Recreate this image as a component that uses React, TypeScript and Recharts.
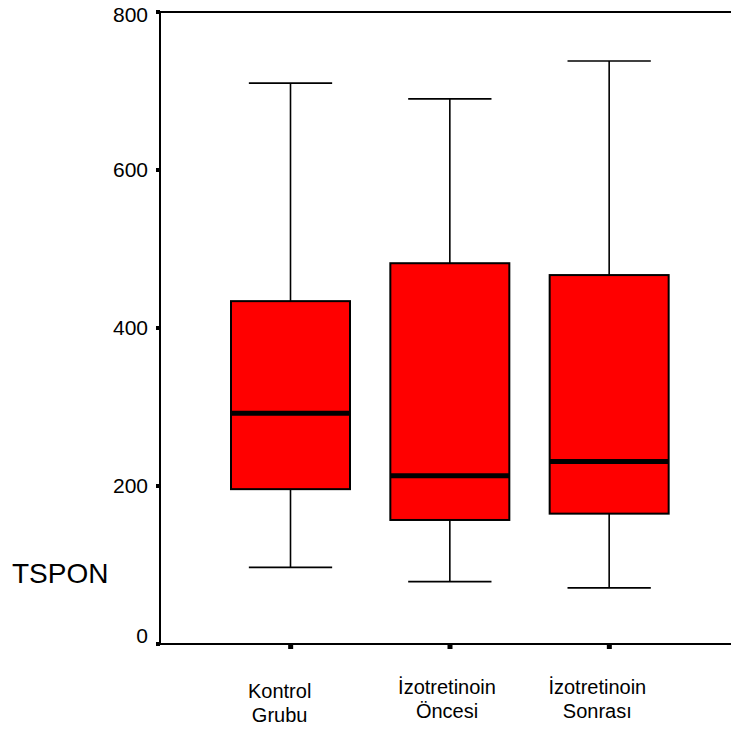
import React from "react";
import { ComposedChart, Bar, XAxis, YAxis, ReferenceLine, Label } from "recharts";

const categories = ["Kontrol\nGrubu", "İzotretinoin\nÖncesi", "İzotretinoin\nSonrası"];
const whiskerLow = [97, 79, 71];
const q1 = [196, 157, 165];
const median = [292, 213, 231];
const q3 = [434, 482, 467];
const whiskerHigh = [710, 690, 738];
const yTicks = [0, 200, 400, 600, 800];

const data = categories.map((name, i) => ({
  name,
  range: [whiskerLow[i], whiskerHigh[i]],
  lo: whiskerLow[i],
  q1: q1[i],
  med: median[i],
  q3: q3[i],
  hi: whiskerHigh[i],
}));

const FONT = "'Liberation Sans', Arial, Helvetica, sans-serif";

const BoxShape = (props: any) => {
  const { x, y, width, height, payload } = props;
  const top = Math.min(y, y + height);
  const bottom = Math.max(y, y + height);
  const px = (bottom - top) / (payload.hi - payload.lo);
  const yOf = (v: number) => bottom - (v - payload.lo) * px;
  const cx = x + width / 2;
  const capW = width * 0.7;
  const yq1 = yOf(payload.q1);
  const yq3 = yOf(payload.q3);
  const ym = yOf(payload.med);
  return (
    <g>
      <line x1={cx} x2={cx} y1={yOf(payload.hi)} y2={yq3} stroke="#000" strokeWidth={1.6} />
      <line x1={cx} x2={cx} y1={yq1} y2={yOf(payload.lo)} stroke="#000" strokeWidth={1.6} />
      <line x1={cx - capW / 2} x2={cx + capW / 2} y1={yOf(payload.hi)} y2={yOf(payload.hi)} stroke="#000" strokeWidth={1.6} />
      <line x1={cx - capW / 2} x2={cx + capW / 2} y1={yOf(payload.lo)} y2={yOf(payload.lo)} stroke="#000" strokeWidth={1.6} />
      <rect x={x} y={yq3} width={width} height={yq1 - yq3} fill="#FF0000" stroke="#000" strokeWidth={2} />
      <line x1={x} x2={x + width} y1={ym} y2={ym} stroke="#000" strokeWidth={5} />
    </g>
  );
};

const X_LABEL_DX = [-11, -3, -12];
const X_LABEL_DY = [0, -4, -4];

const XTick = (props: any) => {
  const { x, payload, index } = props;
  const lines = String(payload.value).split("\n");
  const dx = X_LABEL_DX[index] ?? 0;
  const dy = X_LABEL_DY[index] ?? 0;
  return (
    <text x={x + dx} y={698 + dy} textAnchor="middle" fontFamily={FONT} fontSize={20} fill="#000">
      {lines.map((l, i) => (
        <tspan key={i} x={x + dx} dy={i === 0 ? 0 : 24}>
          {l}
        </tspan>
      ))}
    </text>
  );
};

const YTick = (props: any) => {
  const { y, payload } = props;
  const v = payload.value;
  const off = v === 0 ? -8.5 : v === 800 ? 3 : 0;
  return (
    <text x={148} y={y + off} dy="0.355em" textAnchor="end" fontFamily={FONT} fontSize={21} fill="#000">
      {v}
    </text>
  );
};

export default function App() {
  return (
    <div style={{ position: "absolute", left: 0, top: 0, width: 731, height: 731, background: "#fff" }}>
      <ComposedChart
        width={731}
        height={731}
        data={data}
        margin={{ top: 12, right: 0, bottom: 0, left: 0 }}
      >
        <XAxis
          dataKey="name"
          type="category"
          height={87}
          padding={{ left: 51, right: 42 }}
          axisLine={{ stroke: "#000", strokeWidth: 2 }}
          tickLine={{ stroke: "#000", strokeWidth: 5 }}
          tickSize={5}
          tick={<XTick />}
          interval={0}
        />
        <YAxis
          type="number"
          domain={[0, 800]}
          ticks={yTicks}
          width={160}
          axisLine={{ stroke: "#000", strokeWidth: 2 }}
          tickLine={{ stroke: "#000", strokeWidth: 4 }}
          tickSize={4}
          tickMargin={8}
          tick={<YTick />}
          interval={0}
        >
          <Label
            value="TSPON"
            content={() => (
              <text x={12} y={583} fontFamily={FONT} fontSize={28} fill="#000">
                TSPON
              </text>
            )}
          />
        </YAxis>
        <ReferenceLine y={800} stroke="#000" strokeWidth={2} />
        <Bar dataKey="range" barSize={119} shape={<BoxShape />} isAnimationActive={false} />
      </ComposedChart>
    </div>
  );
}
